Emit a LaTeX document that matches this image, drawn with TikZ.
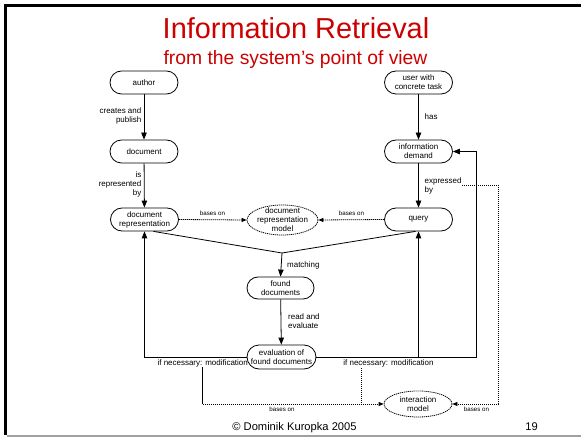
\documentclass[tikz,border=0pt]{standalone}
\usepackage{fontspec}
\setmainfont{Liberation Sans}
\usetikzlibrary{arrows.meta,shapes.geometric}
\definecolor{titlered}{RGB}{204,0,0}
\definecolor{framegray}{RGB}{160,160,160}
\newcommand{\nfont}{\fontsize{8}{9}\selectfont}
\newcommand{\sfont}{\fontsize{6.2}{7}\selectfont}
\tikzset{
  box/.style={draw, rounded corners=11.5bp, minimum width=68bp, minimum height=23bp, inner sep=0pt, align=center, font=\nfont, line width=0.8bp},
  ell/.style={draw, ellipse, dash pattern=on 1.2bp off 0.8bp, line width=0.8bp, inner sep=0pt},
  lbl/.style={font=\nfont, inner sep=0pt, align=left},
  slbl/.style={font=\sfont, inner sep=0pt},
  arr/.style={line width=0.8bp, -{Triangle[length=7bp,width=5.5bp]}},
  plain/.style={line width=0.8bp},
  darr/.style={line width=0.8bp, dash pattern=on 1.2bp off 0.8bp, -{Triangle[length=5bp,width=4bp]}},
  dline/.style={line width=0.8bp, dash pattern=on 1.2bp off 0.8bp},
}
\begin{document}
\begin{tikzpicture}[x=1bp,y=-1bp]
\useasboundingbox (0,0) rectangle (581,437);
% frame
\fill[black] (4,4) rectangle (581,7);
\fill[black] (4,4) rectangle (7,435);
\fill[framegray] (7,434.8) rectangle (581,437);
% title
\node[anchor=base, text=titlered, font=\fontsize{29}{33}\selectfont, inner sep=0pt] (title) at (296,38.5) {Information Retrieval};
\node[anchor=base, text=titlered, font=\fontsize{19.4}{22}\selectfont, inner sep=0pt] (subtitle) at (295.5,65) {from the system’s point of view};
% nodes
\node[box] (author) at (144,82.5) {author};
\node[box] (doc) at (144,151.5) {document};
\node[box] (docrep) at (144.5,219.5) {document\\representation};
\node[box] (user) at (418.5,82.5) {user with\\concrete task};
\node[box] (demand) at (418.5,151.5) {information\\demand};
\node[box] (query) at (418.5,219.5) {query};
\node[ell, minimum width=71bp, minimum height=30bp] (model) at (282.5,220) {};
\node[font=\nfont, align=center, inner sep=0pt] (modeltext) at (model.center) {document\\representation\\model};
\node[box, minimum width=67bp, minimum height=22bp, rounded corners=11bp] (found) at (280.5,288) {found\\documents};
\node[ell, minimum width=68bp, minimum height=26bp] (im) at (418,404) {};
\node[font=\nfont, align=center, inner sep=0pt] (imtext) at (im.center) {interaction\\model};
% junction and corner coordinates
\coordinate (junc) at (282,253);
\coordinate (R) at (476.5,357);
\coordinate (ex) at (462,185);
\coordinate (exr) at (498,185);
\coordinate (d2) at (361,368);
\coordinate (evc) at (281.5,357);
% feedback lines (drawn before eval so it covers them)
\draw[arr] (evc) -| (docrep.south);
\draw[arr] (evc) -| (query.south);
\draw[arr] (query.south |- evc) -- (R) |- (demand.east);
\node[box, minimum width=69bp, minimum height=24bp, rounded corners=12bp, fill=white] (eval) at (evc) {evaluation of\\found documents};
% labels
\node[lbl, anchor=east, align=right] (l1) at (141.5,116) {creates and\\publish};
\node[lbl, anchor=east, align=right] (l2) at (141.5,184) {is\\represented\\by};
\node[lbl, anchor=west] (l3) at (424.5,116.5) {has};
\node[lbl, anchor=west] (l4) at (424.5,186) {expressed\\by};
\node[slbl] (b1) at (212.5,213.5) {bases on};
\node[slbl] (b2) at (351.5,213.5) {bases on};
\node[lbl, anchor=west] (l5) at (287,265.5) {matching};
\node[lbl, anchor=west] (l6) at (288,321) {read and\\evaluate};
\node[lbl, anchor=east] (ifl) at (248,363.5) {if necessary: modification};
\node[lbl] (ifr) at (388.5,363.5) {if necessary: modification};
\node[slbl] (b3) at (282,409.5) {bases on};
\node[slbl] (b4) at (476.5,409.5) {bases on};
% footer
\node[font=\fontsize{11.2}{13}\selectfont, inner sep=0pt, anchor=base] (foot) at (294.5,430) {© Dominik Kuropka 2005};
\node[font=\fontsize{11.2}{13}\selectfont, inner sep=0pt, anchor=base] (page) at (531.5,430) {19};
% connectors
\draw[arr] (author) -- (doc);
\draw[arr] (doc) -- (docrep);
\draw[arr] (user) -- (demand);
\draw[arr] (demand) -- (query);
\draw[darr] (docrep.east) -- (model.west);
\draw[darr] (query.west) -- (model.east);
\draw[plain] ([xshift=9bp]docrep.south) -- (junc);
\draw[plain] ([xshift=-3bp]query.south) -- (junc);
\draw[arr] (junc) -- (found.north);
\draw[arr] (found) -- (eval);
% dashed lines to interaction model
\draw[dline] (ifl.south) -- (ifl.south |- im.west);
\draw[darr] (ifl.south |- im.west) -- (im.west);
\draw[dline] (d2) -- (d2 |- im.west);
\draw[dline] (ex) -- (exr);
\draw[darr] (exr) |- (im.east);
\end{tikzpicture}
\end{document}
